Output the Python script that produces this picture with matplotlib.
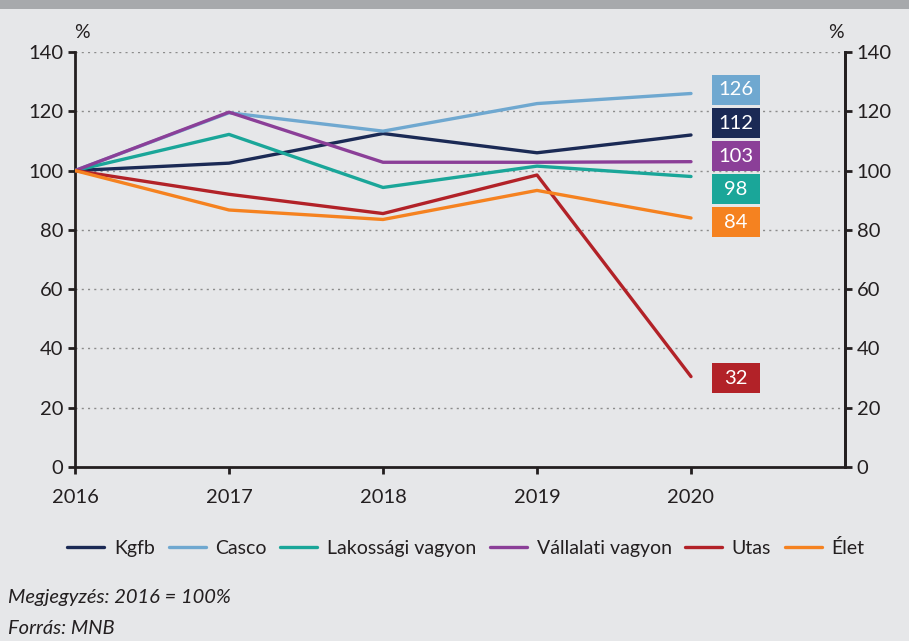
import matplotlib
matplotlib.use("Agg")
import matplotlib.pyplot as plt
from matplotlib.patches import Rectangle

plt.rcParams["font.family"] = ["Lato", "DejaVu Sans"]

# data (2016 = 100)
years = [2016, 2017, 2018, 2019, 2020]
kgfb = [100, 102.5, 112.5, 106, 112]
casco = [100, 119.5, 113.3, 122.6, 126]
lakossagi = [100, 112.2, 94.3, 101.5, 98]
vallalati = [100, 119.7, 102.8, 102.8, 103]
utas = [100, 92.0, 85.5, 98.5, 30.5]
elet = [100, 86.7, 83.5, 93.3, 84]
end_labels = {"Kgfb": "112", "Casco": "126", "Lakossági vagyon": "98",
              "Vállalati vagyon": "103", "Utas": "32", "Élet": "84"}

_BG = "#e6e7e9"
_INK = "#231f20"
series = [
    ("Kgfb", kgfb, "#1b2a55"),
    ("Casco", casco, "#6fa8d0"),
    ("Lakossági vagyon", lakossagi, "#1aa699"),
    ("Vállalati vagyon", vallalati, "#8b3f98"),
    ("Utas", utas, "#b22228"),
    ("Élet", elet, "#f58220"),
]
# box centres (stacked so they don't overlap)
box_y = {"Casco": 127.2, "Kgfb": 116.0, "Vállalati vagyon": 104.9,
         "Lakossági vagyon": 93.7, "Élet": 82.6, "Utas": 30.0}

fig = plt.figure(figsize=(9.09, 6.41), dpi=100)
fig.patch.set_facecolor(_BG)
# dark band at the top
fig.add_artist(Rectangle((0, 1 - 9 / 641), 1, 9 / 641, transform=fig.transFigure,
                         color="#a7a9ac", lw=0))

ax = fig.add_axes([75 / 909, 1 - 467 / 641, 770 / 909, 415 / 641])
ax.set_facecolor(_BG)
ax.set_xlim(2016, 2021)
ax.set_ylim(0, 140)
ax.set_yticks(range(0, 141, 20))
ax.set_xticks(years)
for y in range(20, 141, 20):
    ax.axhline(y, color="#8c8c8c", lw=1, ls=(0, (1.5, 3)), zorder=1)

for name, vals, col in series:
    ax.plot(years, vals, color=col, lw=2.4, label=name, solid_capstyle="round", zorder=3)

# end-value boxes: 48x30 px
bw, bh = 48 / 154, 30 / 415 * 140
bx = 2016 + (736 - 75) / 154
for name, vals, col in series:
    cy = box_y[name]
    ax.add_patch(Rectangle((bx - bw / 2, cy - bh / 2), bw, bh, fc=col, ec="none",
                           zorder=4, clip_on=False))
    ax.text(bx, cy, end_labels[name], ha="center", va="center", color="white",
            fontsize=14.5, zorder=5)

ax.spines["top"].set_visible(False)
for s in ["left", "right", "bottom"]:
    ax.spines[s].set_color(_INK)
    ax.spines[s].set_linewidth(2)
ax.tick_params(axis="both", colors=_INK, width=2, length=5, labelsize=14.5, labelcolor=_INK)
ax.tick_params(axis="x", pad=11)

ax2 = ax.twinx()
ax2.set_ylim(0, 140)
ax2.set_yticks(range(0, 141, 20))
for s in ["top", "left", "bottom"]:
    ax2.spines[s].set_visible(False)
ax2.spines["right"].set_color(_INK)
ax2.spines["right"].set_linewidth(2)
ax2.tick_params(axis="y", colors=_INK, width=2, length=5, labelsize=14.5, labelcolor=_INK)

fig.text(82 / 909, 1 - 33 / 641, "%", ha="center", va="center", fontsize=14, color=_INK)
fig.text(836 / 909, 1 - 33 / 641, "%", ha="center", va="center", fontsize=14, color=_INK)

fig.legend(loc="center", bbox_to_anchor=(466 / 909, 1 - 548 / 641), ncol=6, frameon=False,
           fontsize=14, handlelength=1.9, handletextpad=0.5, columnspacing=0.7,
           labelcolor=_INK)

fig.text(8 / 909, 1 - 598 / 641, "Megjegyzés: 2016 = 100%", ha="left", va="center",
         fontsize=14.5, style="italic", color=_INK)
fig.text(8 / 909, 1 - 628 / 641, "Forrás: MNB", ha="left", va="center",
         fontsize=14.5, style="italic", color=_INK)

fig.savefig("out.png", dpi=100, facecolor=_BG)
